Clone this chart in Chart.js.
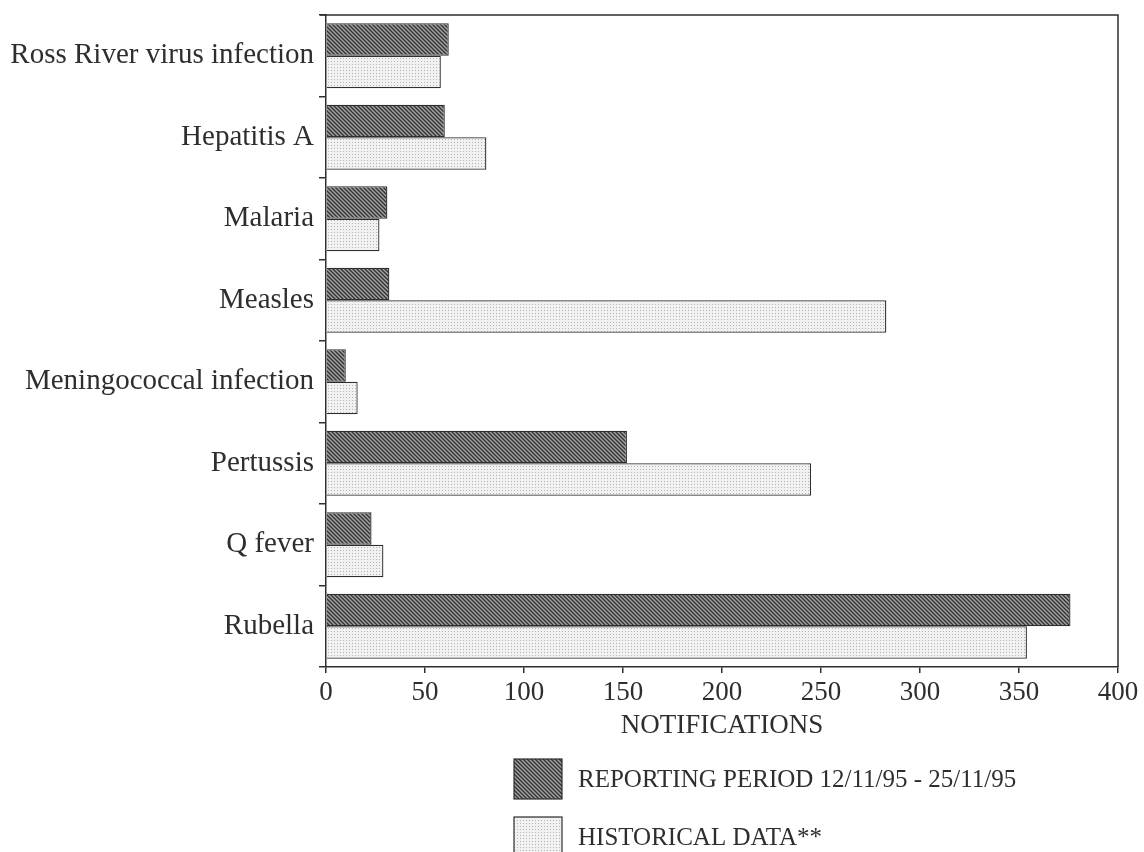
<!DOCTYPE html>
<html>
<head>
<meta charset="utf-8">
<script src="https://cdn.jsdelivr.net/npm/chart.js@4.4.1/dist/chart.umd.min.js"></script>
<style>
  html, body { margin: 0; padding: 0; background: #fff; }
  #wrap { width: 1144px; height: 852px; }
</style>
</head>
<body>
<div id="wrap"><canvas id="chart" width="1144" height="852"></canvas></div>
<script>
const diseases = [
  'Ross River virus infection', 'Hepatitis A', 'Malaria', 'Measles',
  'Meningococcal infection', 'Pertussis', 'Q fever', 'Rubella'
]
const reportingPeriod = [62, 60, 31, 32, 10, 152, 23, 376]
const historicalData = [58, 81, 27, 283, 16, 245, 29, 354]
const xTicks = [0, 50, 100, 150, 200, 250, 300, 350, 400]

const FONT = '"Liberation Serif", "DejaVu Serif", serif'
const INK = '#2e2e2e'

function hatch() {
  const c = document.createElement('canvas')
  c.width = 4; c.height = 4
  const g = c.getContext('2d')
  g.fillStyle = '#a2a2a2'
  g.fillRect(0, 0, 4, 4)
  g.strokeStyle = '#303030'
  g.lineWidth = 1.3
  g.beginPath()
  g.moveTo(0, 0); g.lineTo(4, 4)
  g.moveTo(-2, 2); g.lineTo(2, 6)
  g.moveTo(2, -2); g.lineTo(6, 2)
  g.stroke()
  return g.createPattern(c, 'repeat')
}

function dots() {
  const c = document.createElement('canvas')
  c.width = 3; c.height = 3
  const g = c.getContext('2d')
  g.fillStyle = '#f1f1f1'
  g.fillRect(0, 0, 3, 3)
  g.fillStyle = '#b4b4b4'
  g.fillRect(1, 1, 1, 1)
  return g.createPattern(c, 'repeat')
}

const darkFill = hatch()
const lightFill = dots()

const frame = {
  id: 'frame',
  afterDraw(chart) {
    const { ctx, chartArea: a } = chart
    ctx.save()
    ctx.strokeStyle = INK
    ctx.lineWidth = 1.5
    ctx.beginPath()
    ctx.moveTo(a.left - 6, a.top)
    ctx.lineTo(a.right, a.top)
    ctx.lineTo(a.right, a.bottom)
    ctx.stroke()
    ctx.restore()
  }
}

// legend drawn under the axis, stacked vertically
const stackedLegend = {
  id: 'stackedLegend',
  afterDraw(chart) {
    const { ctx } = chart
    const items = chart.data.datasets
    ctx.save()
    ctx.font = '25px ' + FONT
    ctx.textBaseline = 'middle'
    items.forEach((ds, i) => {
      const x = 514, y = 759 + i * 58, w = 48, h = 40
      ctx.fillStyle = ds.backgroundColor
      ctx.fillRect(x, y, w, h)
      ctx.strokeStyle = INK
      ctx.lineWidth = 1.2
      ctx.strokeRect(x, y, w, h)
      ctx.fillStyle = INK
      ctx.fillText(ds.label, 578, y + 21)
    })
    ctx.restore()
  }
}

new Chart(document.getElementById('chart'), {
  type: 'bar',
  data: {
    labels: diseases,
    datasets: [
      {
        label: 'REPORTING PERIOD 12/11/95 - 25/11/95',
        data: reportingPeriod,
        backgroundColor: darkFill,
        borderColor: INK,
        borderWidth: 1.3,
        categoryPercentage: 0.8,
        barPercentage: 1,
      },
      {
        label: 'HISTORICAL DATA**',
        data: historicalData,
        backgroundColor: lightFill,
        borderColor: INK,
        borderWidth: 1.3,
        categoryPercentage: 0.8,
        barPercentage: 1,
      }
    ]
  },
  options: {
    indexAxis: 'y',
    responsive: false,
    animation: false,
    layout: { padding: { top: 15, right: 26, bottom: 110, left: 0 } },
    scales: {
      x: {
        min: 0,
        max: 400,
        afterBuildTicks(scale) { scale.ticks = xTicks.map(v => ({ value: v })) },
        afterFit(scale) { scale.height = 75 },
        grid: { drawOnChartArea: false, tickLength: 6, color: INK, lineWidth: 1.5 },
        border: { color: INK, width: 1.5 },
        ticks: { color: INK, padding: 4, font: { family: FONT, size: 27 } },
        title: {
          display: true,
          text: 'NOTIFICATIONS',
          color: INK,
          padding: { top: 0, bottom: 0 },
          font: { family: FONT, size: 27 }
        }
      },
      y: {
        afterFit(scale) {
          scale.width = 326
          scale.paddingTop = 0
          scale.paddingBottom = 0
        },
        grid: { drawOnChartArea: false, offset: true, tickLength: 7, color: INK, lineWidth: 1.5 },
        border: { color: INK, width: 1.5 },
        ticks: { color: INK, padding: 5, font: { family: FONT, size: 29 } }
      }
    },
    plugins: {
      legend: { display: false },
      tooltip: { enabled: false }
    }
  },
  plugins: [frame, stackedLegend]
})
</script>
</body>
</html>
